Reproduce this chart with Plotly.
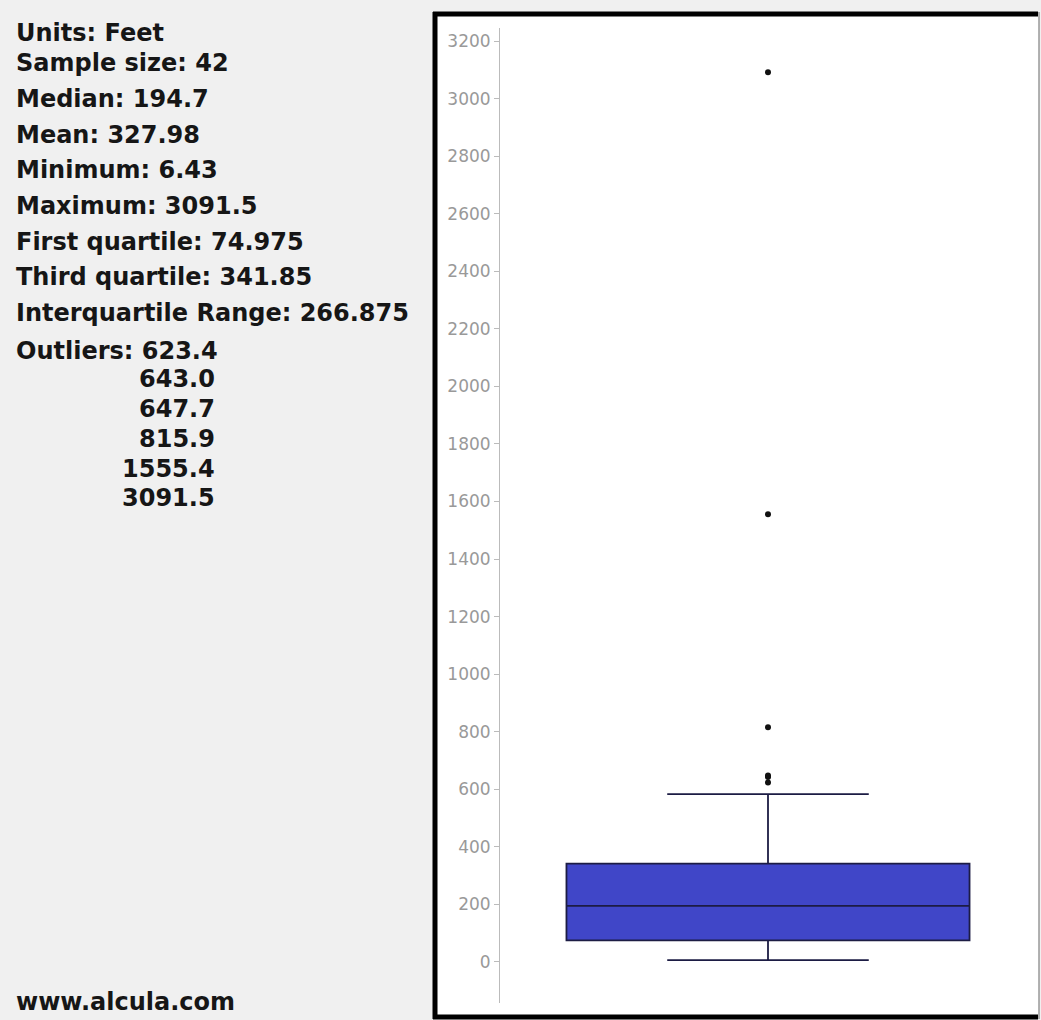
import plotly.graph_objects as go

# ---- data ----
q1 = [74.975]
median = [194.7]
q3 = [341.85]
lower_whisker = [6.43]
upper_whisker = [583.0]
outliers = [623.4, 643.0, 647.7, 815.9, 1555.4, 3091.5]
y_ticks = [0, 200, 400, 600, 800, 1000, 1200, 1400, 1600, 1800, 2000,
           2200, 2400, 2600, 2800, 3000, 3200]

stat_labels = ["Units: Feet", "Sample size: 42", "Median: 194.7", "Mean: 327.98",
               "Minimum: 6.43", "Maximum: 3091.5", "First quartile: 74.975",
               "Third quartile: 341.85", "Interquartile Range: 266.875",
               "Outliers: 623.4"]
outlier_labels = ["643.0", "647.7", "815.9", "1555.4", "3091.5"]
footer = "www.alcula.com"

# ---- layout geometry (pixels) ----
W, H = 1041, 1020
L, R, T, B = 500, 5, 28, 17
PW = W - L - R
PH = H - T - B


def xp(px):
    return (px - L) / PW


def yp(py):
    return (H - B - py) / PH


fig = go.Figure()
fig.add_trace(go.Box(
    x=[0], q1=q1, median=median, q3=q3,
    lowerfence=lower_whisker, upperfence=upper_whisker,
    width=0.752, whiskerwidth=0.5,
    fillcolor="#4046c8",
    line=dict(color="#1c1c44", width=1.8),
    boxpoints=False, hoverinfo="skip", showlegend=False,
))
fig.add_trace(go.Scatter(
    x=[0] * len(outliers), y=outliers, mode="markers",
    marker=dict(color="#111111", size=6),
    showlegend=False, hoverinfo="skip",
))

text_font = dict(family="DejaVu Sans", size=24, color="#161616")
stat_y = [33, 63, 99, 135, 170, 206, 242, 277, 313, 351]
anns = []
for lab, yy in zip(stat_labels, stat_y):
    anns.append(dict(text="<b>%s</b>" % lab, x=xp(14), y=yp(yy), xref="paper", yref="paper",
                     xanchor="left", yanchor="middle", showarrow=False, font=text_font))
out_y = [379, 409, 439, 469, 498]
for lab, yy in zip(outlier_labels, out_y):
    anns.append(dict(text="<b>%s</b>" % lab, x=xp(217), y=yp(yy), xref="paper", yref="paper",
                     xanchor="right", yanchor="middle", showarrow=False, font=text_font))
anns.append(dict(text="<b>%s</b>" % footer, x=xp(14), y=yp(1002), xref="paper", yref="paper",
                 xanchor="left", yanchor="middle", showarrow=False, font=text_font))

shapes = [
    dict(type="rect", xref="paper", yref="paper", x0=xp(435), x1=xp(1039), y0=yp(1016), y1=yp(14),
         fillcolor="white", line=dict(width=0), layer="below"),
    dict(type="line", xref="paper", yref="paper", x0=xp(435), x1=xp(435), y0=yp(1019), y1=yp(12),
         line=dict(color="black", width=5)),
    dict(type="line", xref="paper", yref="paper", x0=xp(433), x1=xp(1038), y0=yp(14), y1=yp(14),
         line=dict(color="black", width=5)),
    dict(type="line", xref="paper", yref="paper", x0=xp(433), x1=xp(1038), y0=yp(1017), y1=yp(1017),
         line=dict(color="black", width=5)),
    dict(type="line", xref="paper", yref="paper", x0=xp(1039), x1=xp(1039), y0=yp(1019), y1=yp(12),
         line=dict(color="#999999", width=1.5)),
]

fig.update_layout(
    width=W, height=H,
    margin=dict(l=L, r=R, t=T, b=B, pad=0),
    paper_bgcolor="#f0f0f0", plot_bgcolor="white",
    annotations=anns, shapes=shapes,
    xaxis=dict(range=[-0.5, 0.5], visible=False, fixedrange=True),
    yaxis=dict(range=[-142.5, 3245.2], tickmode="array", tickvals=y_ticks,
               ticktext=[str(v) for v in y_ticks],
               showgrid=False, zeroline=False, showline=True, linecolor="#bbbbbb", linewidth=1,
               ticks="outside", ticklen=5, tickcolor="#bbbbbb",
               tickfont=dict(family="DejaVu Sans", size=17, color="#999999")),
)

fig.write_html("out.html", config={"displayModeBar": False},
               post_script="document.body.style.margin='0';document.body.style.overflow='hidden';")
